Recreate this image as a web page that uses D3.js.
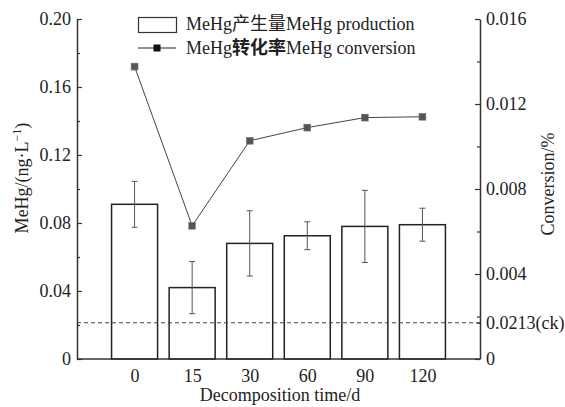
<!DOCTYPE html>
<html>
<head>
<meta charset="utf-8">
<script src="https://cdn.jsdelivr.net/npm/d3@7"></script>
<style>
  body { margin: 0; background: #fff; }
  svg, text { font-family: "Liberation Serif", "Times New Roman", serif; fill: #222; }
</style>
</head>
<body>
<script>
// data
const days = ["0", "15", "30", "60", "90", "120"];
const production = [0.091, 0.042, 0.068, 0.0725, 0.078, 0.079];
const prodErr = [0.0135, 0.0153, 0.0192, 0.0082, 0.0212, 0.0097];
const conversion = [0.01376, 0.00627, 0.01027, 0.01089, 0.01136, 0.0114];
const ckValue = 0.0213;
const leftTicks = [0, 0.04, 0.08, 0.12, 0.16, 0.20];
const rightTicks = [0, 0.004, 0.008, 0.012, 0.016];

const w = 565, h = 407;
const svg = d3.select("body").append("svg").attr("width", w).attr("height", h);

const pLeft = 77, pRight = 480, pTop = 19, pBottom = 359;
const fs = 18;
const serif = "Liberation Serif, Times New Roman, serif";

const x = d3.scalePoint().domain(days).range([pLeft, pRight]).padding(1);
const yL = d3.scaleLinear().domain([0, 0.2]).range([pBottom, pTop]);
const yR = d3.scaleLinear().domain([0, 0.016]).range([pBottom, pTop]);
const barW = 46;
const axisColor = "#333";

// bars
svg.selectAll(".bar")
  .data(days)
  .enter().append("rect")
  .attr("x", d => x(d) - barW / 2)
  .attr("y", (d, i) => yL(production[i]))
  .attr("width", barW)
  .attr("height", (d, i) => pBottom - yL(production[i]))
  .attr("fill", "#fff")
  .attr("stroke", "#222")
  .attr("stroke-width", 1.5);

// error bars
const eb = svg.append("g").attr("stroke", "#555").attr("stroke-width", 1);
days.forEach((d, i) => {
  const cx = x(d), y1 = yL(production[i] + prodErr[i]), y2 = yL(production[i] - prodErr[i]);
  eb.append("line").attr("x1", cx).attr("x2", cx).attr("y1", y1).attr("y2", y2);
  eb.append("line").attr("x1", cx - 3).attr("x2", cx + 3).attr("y1", y1).attr("y2", y1);
  eb.append("line").attr("x1", cx - 3).attr("x2", cx + 3).attr("y1", y2).attr("y2", y2);
});

// ck dashed line
svg.append("line")
  .attr("x1", pLeft).attr("x2", pRight)
  .attr("y1", yL(ckValue)).attr("y2", yL(ckValue))
  .attr("stroke", "#444").attr("stroke-width", 1)
  .attr("stroke-dasharray", "4,3");

// conversion line
const line = d3.line()
  .x((d, i) => x(days[i]))
  .y(d => yR(d));
svg.append("path")
  .datum(conversion)
  .attr("fill", "none")
  .attr("stroke", "#444")
  .attr("stroke-width", 1)
  .attr("d", line);
svg.selectAll(".pt")
  .data(conversion)
  .enter().append("rect")
  .attr("x", (d, i) => x(days[i]) - 3.5)
  .attr("y", d => yR(d) - 3.5)
  .attr("width", 7).attr("height", 7)
  .attr("fill", "#555")
  .attr("stroke", "#888")
  .attr("stroke-width", 0.5);

// left axis
const gL = svg.append("g").attr("transform", `translate(${pLeft},0)`);
gL.call(d3.axisLeft(yL).tickValues(leftTicks).tickSizeInner(-5).tickSizeOuter(0)
  .tickPadding(6).tickFormat(d => d === 0 ? "0" : d3.format(".2f")(d)));
const gLm = svg.append("g").attr("transform", `translate(${pLeft},0)`);
gLm.call(d3.axisLeft(yL).tickValues([0.02, 0.06, 0.10, 0.14, 0.18]).tickSize(-3).tickFormat(""));
gLm.select(".domain").remove();

// right axis
const gR = svg.append("g").attr("transform", `translate(${pRight},0)`);
gR.call(d3.axisRight(yR).tickValues(rightTicks).tickSizeInner(-5).tickSizeOuter(0)
  .tickPadding(6).tickFormat(d => d === 0 ? "0" : d3.format(".3f")(d)));
const gRm = svg.append("g").attr("transform", `translate(${pRight},0)`);
gRm.call(d3.axisRight(yR).tickValues([0.002, 0.006, 0.010, 0.014]).tickSize(-3).tickFormat(""));
gRm.select(".domain").remove();
const gCk = svg.append("g").attr("transform", `translate(${pRight},0)`);
gCk.call(d3.axisRight(yL).tickValues([ckValue]).tickSize(-3).tickPadding(6).tickFormat(d => d + "(ck)"));
gCk.select(".domain").remove();

// bottom axis
const gB = svg.append("g").attr("transform", `translate(0,${pBottom})`);
gB.call(d3.axisBottom(x).tickSize(0).tickPadding(10));
gB.select(".domain").attr("d", `M${pLeft},0H${pRight}`);

[gL, gLm, gR, gRm, gCk, gB].forEach(g => {
  g.attr("font-family", serif).attr("font-size", fs);
  g.selectAll(".domain").attr("stroke", axisColor).attr("stroke-width", 1.5);
  g.selectAll(".tick line").attr("stroke", axisColor).attr("stroke-width", 1.2);
  g.selectAll(".tick text").attr("fill", "#222");
});

// axis titles
svg.append("text")
  .attr("transform", `translate(28,178) rotate(-90)`)
  .attr("text-anchor", "middle").attr("font-size", fs)
  .html('MeHg/(ng·L<tspan dy="-7" font-size="12">−1</tspan><tspan dy="7">)</tspan>');
svg.append("text")
  .attr("transform", `translate(554,184) rotate(-90)`)
  .attr("text-anchor", "middle").attr("font-size", fs)
  .text("Conversion/%");
svg.append("text")
  .attr("x", 280).attr("y", 401)
  .attr("text-anchor", "middle").attr("font-size", fs)
  .text("Decomposition time/d");

// legend
const lg = svg.append("g").attr("font-size", fs);
lg.append("rect").attr("x", 138.5).attr("y", 17.5).attr("width", 38).attr("height", 15)
  .attr("fill", "#fff").attr("stroke", "#333").attr("stroke-width", 1.2);
lg.append("text").attr("x", 186).attr("y", 30)
  .html('MeHg<tspan font-family="Noto Sans CJK SC" font-size="18">产生量</tspan>MeHg production');
lg.append("line").attr("x1", 138).attr("x2", 176).attr("y1", 48).attr("y2", 48)
  .attr("stroke", "#222").attr("stroke-width", 1);
lg.append("rect").attr("x", 153.5).attr("y", 44.5).attr("width", 7).attr("height", 7).attr("fill", "#111");
lg.append("text").attr("x", 186).attr("y", 54)
  .html('MeHg<tspan font-family="Noto Sans CJK SC" font-size="18" font-weight="bold">转化率</tspan>MeHg conversion');
</script>
</body>
</html>
